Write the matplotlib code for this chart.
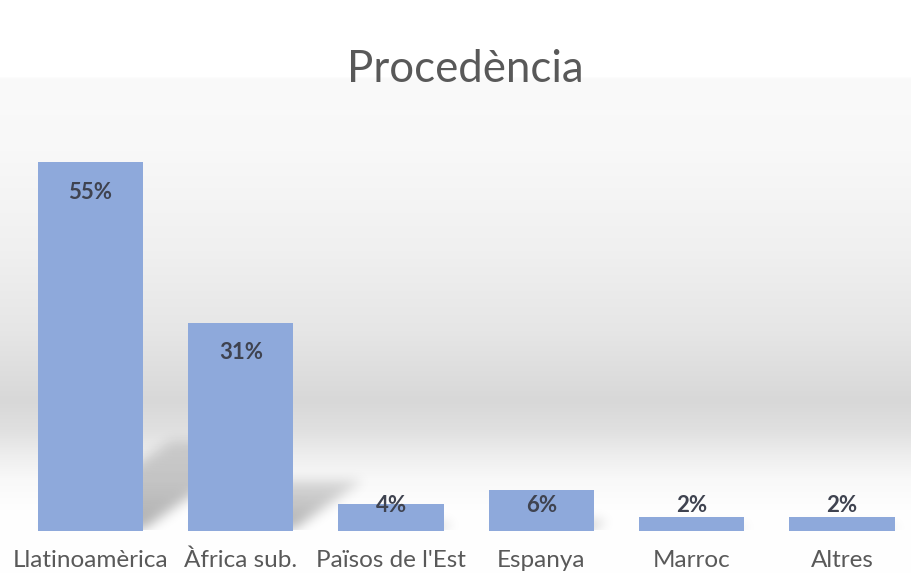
import numpy as np
import matplotlib
matplotlib.use("Agg")
import matplotlib.pyplot as plt
from matplotlib.path import Path

categories = ["Llatinoamèrica", "Àfrica sub.", "Països de l'Est", "Espanya", "Marroc", "Altres"]
values = [55, 31, 4, 6, 2, 2]
value_labels = ["55%", "31%", "4%", "6%", "2%", "2%"]
title = "Procedència"

W, H, DPI = 911, 573, 100
fig = plt.figure(figsize=(W / DPI, H / DPI), dpi=DPI)

# background gradient (figure-level)
bg = fig.add_axes([0, 0, 1, 1], zorder=0)
stops_y = np.array([0, 76, 78, 150, 250, 330, 400, 430, 455, 480, 510, 573])
stops_v = np.array([255, 255, 250, 248, 240, 230, 216, 224, 238, 249, 254, 255]) / 255.0
ys = np.arange(H)
col = np.interp(ys, stops_y, stops_v)
img = np.repeat(col[:, None], 4, axis=1)
bg.imshow(np.dstack([img, img, img]), aspect="auto", extent=[0, 1, 0, 1], origin="upper")
bg.set_axis_off()

# main axes
left_px, right_px = 15.3, 911
bottom_px = H - 530.5
ppu_y = 6.7
ylim_top = 60
ax_h_px = ylim_top * ppu_y
slot_px = 150.3
ax = fig.add_axes([left_px / W, bottom_px / H, (right_px - left_px) / W, ax_h_px / H], zorder=1)
ax.patch.set_alpha(0)
xmax = -0.5 + (right_px - left_px) / slot_px
ax.set_xlim(-0.5, xmax)
ax.set_ylim(0, ylim_top)

x = np.arange(len(categories))
bw = 0.70

# perspective shadows
nx, ny = int(right_px - left_px), int(ax_h_px)
gx = np.linspace(-0.5, xmax, nx)
gy = np.linspace(0, ylim_top, ny)
GX, GY = np.meshgrid(gx, gy)
pts = np.column_stack([GX.ravel(), GY.ravel()])
mask = np.zeros(GX.shape)
for xi, v in zip(x, values):
    k = 0.24
    dx = 0.34 * v * ppu_y / slot_px
    poly = [(xi - bw / 2 + 0.03, 0), (xi + bw / 2, 0), (xi + bw / 2 + dx, k * v), (xi - bw / 2 + dx + 0.05, k * v)]
    inside = Path(poly).contains_points(pts).reshape(GX.shape)
    fade = np.clip(1 - GY / max(k * v, 1e-6) * 0.6, 0, 1)
    mask = np.maximum(mask, inside * fade)
def blur1d(a, s, axis):
    r = int(3 * s)
    kern = np.exp(-0.5 * (np.arange(-r, r + 1) / s) ** 2)
    kern /= kern.sum()
    return np.apply_along_axis(lambda m: np.convolve(m, kern, mode="same"), axis, a)
mask = blur1d(blur1d(mask, 6, 0), 6, 1)
shadow = np.zeros(GX.shape + (4,))
shadow[..., 3] = mask * 0.32
ax.imshow(shadow, extent=[-0.5, xmax, 0, ylim_top], origin="lower", aspect="auto", zorder=1)

bar_color = "#8EA9DB"
ax.bar(x, values, width=bw, color=bar_color, zorder=2)

for xi, v, lab in zip(x, values, value_labels):
    ly = max(v - 4.5, 3.7)
    ax.text(xi, ly, lab, ha="center", va="center", fontsize=16, fontweight="bold",
            color="#3f4350", family="Lato", zorder=3)

ax.set_xticks(x)
ax.set_xticklabels(categories, fontsize=17.5, color="#595959", family="Lato")
ax.tick_params(axis="x", length=0, pad=14)
ax.set_yticks([])
for s in ax.spines.values():
    s.set_visible(False)

fig.text(465.5 / W, 1 - 70 / H, title, ha="center", va="center", fontsize=31.5,
         color="#595959", family="Lato")

fig.savefig("out.png", dpi=DPI)
